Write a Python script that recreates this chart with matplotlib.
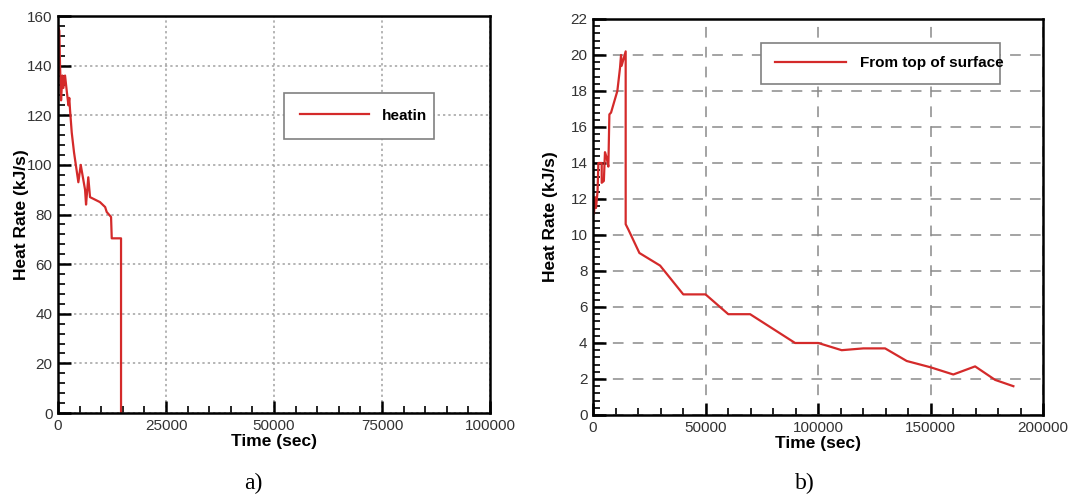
import matplotlib.pyplot as plt
from matplotlib.ticker import MultipleLocator

plt.rcParams['font.family'] = ['Liberation Sans', 'DejaVu Sans']

# (a) heat input, time in seconds
t_heatin = [0, 300, 460, 700, 1000, 1230, 1620, 2000, 2400, 2600, 2780, 3170,
            3700, 4700, 5250, 6250, 6480, 7000, 7400, 9700, 10900, 11270,
            12270, 12430, 14580, 14580]
q_heatin = [156, 154, 140, 126, 136, 131, 136, 130, 124, 127, 122, 113,
            105, 93, 100, 90, 84, 95, 87, 85, 83, 81,
            79, 70.4, 70.4, 0]

# (b) heat flow from top of surface
t_top = [400, 900, 1300, 2000, 2370, 3850, 3850, 4800, 5300, 6050, 6800,
         7260, 8000, 10800, 12000, 12440, 12700, 14500, 14500, 15700, 20600,
         29800, 40100, 50000, 60100, 69800, 89800, 100100, 110500, 120100,
         129800, 139400, 150000, 160100, 169800, 178700, 186800]
q_top = [11.2, 12.1, 11.5, 12.4, 14.0, 14.0, 12.9, 13.0, 14.6, 14.3, 13.8,
         16.7, 16.8, 18.0, 19.3, 20.0, 19.4, 20.2, 10.6, 10.3, 9.0,
         8.3, 6.7, 6.7, 5.6, 5.6, 4.0, 4.0, 3.6, 3.7,
         3.7, 3.0, 2.65, 2.25, 2.7, 1.95, 1.6]

red = '#d42a2a'

fig = plt.figure(figsize=(10.73, 4.97), dpi=100)
ax1 = fig.add_axes([0.0541, 0.169, 0.4026, 0.7988])
ax2 = fig.add_axes([0.5527, 0.165, 0.4194, 0.7968])

ax1.plot(t_heatin, q_heatin, color=red, lw=1.6, label='heatin')
ax2.plot(t_top, q_top, color=red, lw=1.6, label='From top of surface')

ax1.set_xlim(0, 100000)
ax1.set_ylim(0, 160)
ax1.xaxis.set_major_locator(MultipleLocator(25000))
ax1.xaxis.set_minor_locator(MultipleLocator(5000))
ax1.yaxis.set_major_locator(MultipleLocator(20))
ax1.yaxis.set_minor_locator(MultipleLocator(4))
ax1.grid(True, which='major', color='#a0a0a0', ls=(0, (1.5, 2)), lw=1.1)

ax2.set_xlim(0, 200000)
ax2.set_ylim(0, 22)
ax2.xaxis.set_major_locator(MultipleLocator(50000))
ax2.xaxis.set_minor_locator(MultipleLocator(10000))
ax2.yaxis.set_major_locator(MultipleLocator(2))
ax2.yaxis.set_minor_locator(MultipleLocator(0.4))
ax2.grid(True, which='major', color='#8a8a8a', ls=(0, (7, 6)), lw=1.1)

for ax in (ax1, ax2):
    ax.set_axisbelow(True)
    for sp in ax.spines.values():
        sp.set_linewidth(1.8)
    ax.tick_params(which='major', direction='in', length=9, width=1.8,
                   labelsize=11, colors='black', labelcolor='#333333', pad=4)
    ax.tick_params(which='minor', direction='in', length=5, width=1.2)
    ax.set_xlabel('Time (sec)', fontsize=12.5, fontweight='bold', labelpad=1)
    ax.set_ylabel('Heat Rate (kJ/s)', fontsize=12.5, fontweight='bold')
# label anchor is the right edge of the rotated text
ax1.yaxis.set_label_coords(-0.068, 0.5)
ax2.yaxis.set_label_coords(-0.078, 0.5)

leg1 = ax1.legend(loc='center', bbox_to_anchor=(0.523, 0.749, 0.347, 0.0),
                  mode='expand', borderaxespad=0, fancybox=False,
                  edgecolor='#808080', prop={'weight': 'bold', 'size': 11},
                  handlelength=4.5, handletextpad=0.85, borderpad=1.05,
                  framealpha=1)
leg1.get_frame().set_linewidth(1.2)
leg2 = ax2.legend(loc='center', bbox_to_anchor=(0.373, 0.888, 0.531, 0.0),
                  mode='expand', borderaxespad=0, fancybox=False,
                  edgecolor='#808080', prop={'weight': 'bold', 'size': 11},
                  handlelength=4.7, handletextpad=0.9, borderpad=0.9,
                  framealpha=1)
leg2.get_frame().set_linewidth(1.2)

fig.text(0.236, 0.028, 'a)', fontsize=17, family='Liberation Serif',
         ha='center', va='center')
fig.text(0.750, 0.028, 'b)', fontsize=17, family='Liberation Serif',
         ha='center', va='center')

fig.savefig('out.png', dpi=100)
